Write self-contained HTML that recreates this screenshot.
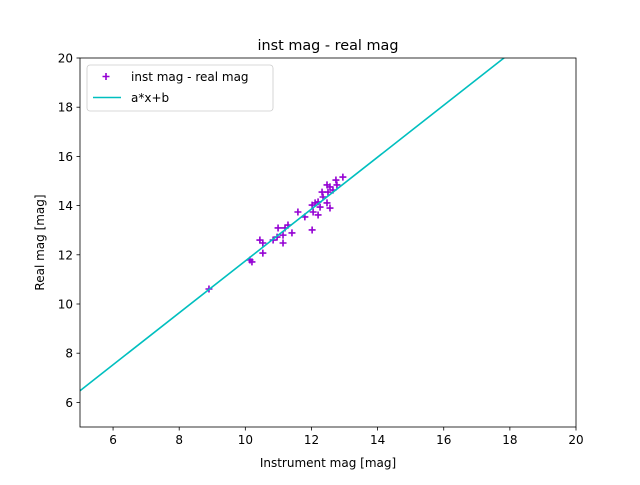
<!DOCTYPE html>
<html><head><meta charset="utf-8"><style>body{margin:0;background:#fff}svg{font-family:"DejaVu Sans","Liberation Sans",sans-serif}</style></head>
<body>
<svg id="chart" width="640" height="480">
<defs><clipPath id="clip"><rect x="80" y="58" width="496" height="369"/></clipPath></defs>
<rect x="0" y="0" width="640" height="480" fill="#fff"/>
<text x="328" y="50" text-anchor="middle" font-size="14.4">inst mag - real mag</text>
<g id="plot" clip-path="url(#clip)"></g>
<rect x="80" y="58" width="496" height="369" fill="none" stroke="#000" stroke-width="0.8"/>
<g id="axes"></g>
<text x="328" y="467" text-anchor="middle" font-size="12">Instrument mag [mag]</text>
<text transform="translate(44,242.5) rotate(-90)" text-anchor="middle" font-size="12">Real mag [mag]</text>
<g>
<rect x="87" y="65" width="186" height="46" rx="3" fill="#fff" stroke="#ccc" stroke-width="0.8"/>
<g><path d="M102.5 76.5h7M106 73v7" stroke="#9400d3" stroke-width="1.6"/><text x="131" y="81" font-size="12">inst mag - real mag</text></g>
<g><path d="M93 97.5h28" stroke="#00bfbf" stroke-width="1.6"/><text x="131" y="102" font-size="12">a*x+b</text></g>
</g>
</svg>
<script>
const xs=[12.95,12.74,12.47,12.56,12.77,12.65,12.50,12.32,12.35,12.20,12.11,12.02,12.26,12.56,12.47,12.05,12.20,11.59,11.80,12.02,11.29,11.20,10.99,11.41,11.14,10.96,10.84,11.14,10.44,10.53,10.53,10.20,10.14,8.90];
const ys=[15.16,15.04,14.84,14.76,14.84,14.63,14.55,14.55,14.35,14.15,14.11,14.02,13.94,13.90,14.11,13.74,13.62,13.74,13.54,13.01,13.21,13.09,13.09,12.89,12.80,12.72,12.60,12.48,12.60,12.48,12.07,11.71,11.79,10.61];
const fitA=1.055, fitB=1.20;
const xTicks=[6,8,10,12,14,16,18,20];
const yTicks=[6,8,10,12,14,16,18,20];
const X=v=>80+(v-5)*496/15, Y=v=>427-(v-5)*369/15;
const NS="http://www.w3.org/2000/svg";
const plot=document.getElementById('plot'), axes=document.getElementById('axes');
function mk(tag,attrs,parent){const e=document.createElementNS(NS,tag);for(const k in attrs)e.setAttribute(k,attrs[k]);parent.appendChild(e);return e;}
xTicks.forEach(t=>{const g=mk('g',{},axes);


mk('line',{x1:X(t),x2:X(t),y1:427,y2:430.5,stroke:'#000','stroke-width':0.8},g);
const tx=mk('text',{x:X(t),y:444,'text-anchor':'middle','font-size':12},g);tx.textContent=t;});
yTicks.forEach(t=>{const g=mk('g',{},axes);


mk('line',{x1:76.5,x2:80,y1:Y(t),y2:Y(t),stroke:'#000','stroke-width':0.8},g);
const tx=mk('text',{x:73,y:Y(t)+4.5,'text-anchor':'end','font-size':12},g);tx.textContent=t;});
xs.forEach((x,i)=>{const p=mk('path',{d:`M${X(x)-3.5} ${Y(ys[i])}h7M${X(x)} ${Y(ys[i])-3.5}v7`,stroke:'#9400d3','stroke-width':1.6,fill:'none'},plot);

});
const l=mk('line',{x1:X(5),y1:Y(fitA*5+fitB),x2:X(20),y2:Y(fitA*20+fitB),stroke:'#00bfbf','stroke-width':1.6},plot);


</script>
</body></html>
